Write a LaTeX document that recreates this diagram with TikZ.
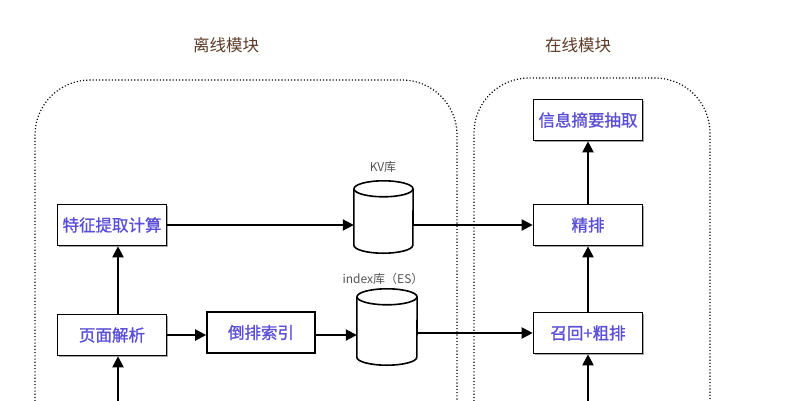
\documentclass[tikz,border=0pt]{standalone}
\usepackage{fontspec}
\setmainfont{Noto Sans CJK SC}
\newfontfamily\boxfont[FakeBold=1.2]{Noto Sans CJK SC}
\usetikzlibrary{arrows.meta,shadows,calc}
\definecolor{boxtext}{HTML}{5A4FD6}
\definecolor{titlebrown}{HTML}{5C3B28}
\definecolor{labelgray}{HTML}{555555}
\tikzset{
  procbox/.style={draw=black, line width=1.6pt, fill=white, minimum width=109pt, minimum height=41pt,
    inner sep=0pt, font=\boxfont\fontsize{16.5}{19}\selectfont, text=boxtext,
    drop shadow={shadow xshift=1.3pt, shadow yshift=-1.3pt, opacity=0.35, fill=black}},
  dbhold/.style={draw=none, inner sep=0pt},
  dblabel/.style={font=\fontsize{12}{14}\selectfont, text=labelgray},
  title/.style={font=\fontsize{16.5}{19}\selectfont, text=titlebrown},
  modframe/.style={draw=black, line width=1.2pt, dash pattern=on 1.1pt off 2.1pt, rounded corners=55pt},
  flow/.style={draw=black, line width=2pt, -{Triangle[length=11pt,width=11pt]}},
  cyl/.style={draw=black, line width=1.6pt, fill=white}
}
\begin{document}
\begin{tikzpicture}[x=1pt,y=-1pt]
\useasboundingbox (0,0) rectangle (788,400);
\clip (0,0) rectangle (788,400);
\fill[white] (0,0) rectangle (788,400);
% titles
\node[title] (t1) at (226,45) {离线模块};
\node[title] (t2) at (578,45) {在线模块};
% module frames
\draw[modframe] (35,430) -- (35,80) -- (457,80) -- (457,430);
\draw[modframe] (474,430) -- (474,78) -- (710,78) -- (710,430);
% process boxes
\node[procbox] (xx) at (588,120) {信息摘要抽取};
\node[procbox] (jp) at (588,225) {精排};
\node[procbox] (zh) at (588,333) {召回+粗排};
\node[procbox] (tz) at (112,225) {特征提取计算};
\node[procbox] (ym) at (112,335) {页面解析};
\node[procbox, minimum width=108pt] (dp) at (261,332.5) {倒排索引};
% databases
\node[dbhold, minimum width=59pt, minimum height=72pt] (kv) at (383.5,217) {};
\node[dbhold, minimum width=60pt, minimum height=76pt] (idx) at (387,327) {};
\draw[cyl] ($(kv.north west)+(0,8)$) -- ($(kv.south west)+(0,-8)$) arc[start angle=180, end angle=360, x radius=29.5pt, y radius=8pt] -- ($(kv.north east)+(0,8)$);
\path[cyl] ($(kv.north)+(0,8)$) ellipse[x radius=29.5pt, y radius=8pt];
\draw[cyl] ($(idx.north west)+(0,8)$) -- ($(idx.south west)+(0,-8)$) arc[start angle=180, end angle=360, x radius=30pt, y radius=8pt] -- ($(idx.north east)+(0,8)$);
\path[cyl] ($(idx.north)+(0,8)$) ellipse[x radius=30pt, y radius=8pt];
\node[dblabel] (kvl) at (383,167) {KV库};
\node[dblabel] (idxl) at (383,279) {index库（ES）};
% coordinates at the lower edge
\coordinate (inL) at (118,420);
\coordinate (inR) at (588,420);
% connectors
\draw[flow] (tz.east) -- (tz.east -| kv.west);
\draw[flow] (kv.east |- jp.west) -- (jp.west);
\draw[flow] (ym.east) -- (ym.east -| dp.west);
\draw[flow] (dp.east |- ym.east) -- (ym.east -| idx.west);
\draw[flow] (idx.east |- zh.west) -- (zh.west);
\draw[flow] (ym.north -| inL) -- (tz.south -| inL);
\draw[flow] (inL) -- (ym.south -| inL);
\draw[flow] (inR) -- (zh.south);
\draw[flow] (zh.north) -- (jp.south);
\draw[flow] (jp.north) -- (xx.south);
\end{tikzpicture}
\end{document}
